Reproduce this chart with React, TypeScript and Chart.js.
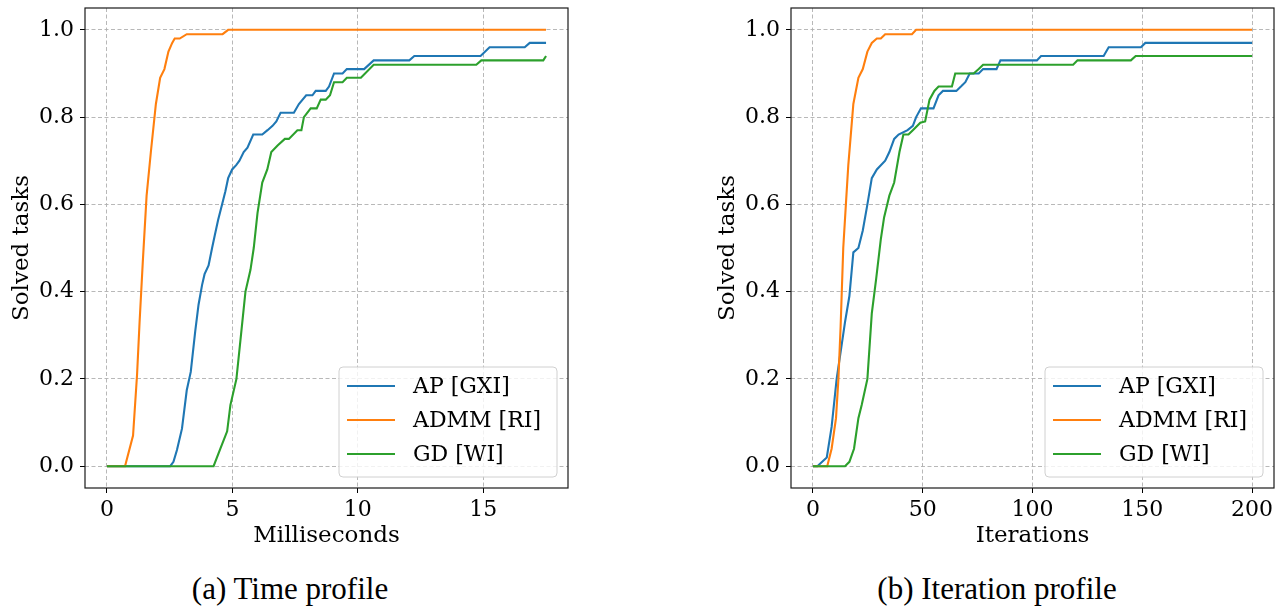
import React, { useEffect, useRef } from "react";
import { Chart, registerables } from "chart.js";

Chart.register(...registerables);

// ---------- data ----------
const seriesNames = ["AP [GXI]", "ADMM [RI]", "GD [WI]"];
const seriesColors = ["#1f77b4", "#ff7f0e", "#2ca02c"];

const yTicks = [0, 0.2, 0.4, 0.6, 0.8, 1.0];
const timeTicks = [0, 5, 10, 15];
const iterTicks = [0, 50, 100, 150, 200];

// Time profile (milliseconds)
const timeAPx = [0, 2.52, 2.65, 2.79, 2.99, 3.18, 3.34, 3.52, 3.65, 3.79, 3.89, 4.05, 4.19, 4.3, 4.43, 4.59, 4.72, 4.83, 4.99, 5.15, 5.28, 5.45, 5.6, 5.83, 6.19, 6.4, 6.6, 6.75, 6.92, 7.45, 7.65, 7.94, 8.19, 8.32, 8.72, 8.85, 9.05, 9.39, 9.56, 10.25, 10.63, 12.05, 12.25, 14.89, 15.25, 16.65, 16.85, 17.5];
const timeAPy = [0, 0, 0.01, 0.037, 0.086, 0.174, 0.216, 0.31, 0.37, 0.415, 0.44, 0.46, 0.5, 0.53, 0.564, 0.6, 0.63, 0.66, 0.68, 0.69, 0.7, 0.72, 0.73, 0.76, 0.76, 0.77, 0.78, 0.79, 0.81, 0.81, 0.83, 0.85, 0.85, 0.86, 0.86, 0.87, 0.9, 0.9, 0.91, 0.91, 0.93, 0.93, 0.94, 0.94, 0.96, 0.96, 0.97, 0.97];

const timeADMMx = [0, 0.72, 1.04, 1.2, 1.3, 1.43, 1.58, 1.75, 1.95, 2.12, 2.29, 2.45, 2.6, 2.7, 2.9, 3.18, 4.61, 4.83, 17.5];
const timeADMMy = [0, 0, 0.07, 0.21, 0.33, 0.47, 0.62, 0.72, 0.83, 0.89, 0.91, 0.95, 0.97, 0.98, 0.98, 0.99, 0.99, 1.0, 1.0];

const timeGDx = [0, 4.25, 4.52, 4.79, 4.92, 5.16, 5.34, 5.52, 5.72, 5.85, 6.0, 6.19, 6.39, 6.55, 6.8, 7.09, 7.25, 7.59, 7.75, 7.85, 8.12, 8.36, 8.52, 8.72, 8.89, 9.05, 9.39, 9.56, 10.12, 10.63, 14.72, 14.92, 17.39, 17.5];
const timeGDy = [0, 0, 0.04, 0.08, 0.14, 0.2, 0.3, 0.4, 0.45, 0.5, 0.58, 0.65, 0.68, 0.72, 0.735, 0.75, 0.75, 0.77, 0.77, 0.8, 0.82, 0.82, 0.84, 0.84, 0.85, 0.88, 0.88, 0.89, 0.89, 0.92, 0.92, 0.93, 0.93, 0.94];

// Iteration profile
const iterAPx = [0, 2, 6.3, 8.5, 10.8, 14.6, 16.6, 18.4, 20.7, 22.7, 24.8, 26.8, 29.1, 32.9, 34.8, 37, 39, 43.1, 45.5, 47, 49.2, 54.9, 57.2, 59.2, 65.3, 67.4, 69.4, 71.4, 75.5, 77.5, 83.6, 85.4, 102, 103.9, 132.4, 134.7, 149.4, 151.4, 200];
const iterAPy = [0, 0, 0.02, 0.09, 0.2, 0.33, 0.39, 0.49, 0.5, 0.54, 0.6, 0.66, 0.68, 0.7, 0.72, 0.75, 0.76, 0.77, 0.78, 0.8, 0.82, 0.82, 0.85, 0.86, 0.86, 0.87, 0.88, 0.9, 0.9, 0.91, 0.91, 0.93, 0.93, 0.94, 0.94, 0.96, 0.96, 0.97, 0.97];

const iterADMMx = [0, 6.5, 8.5, 10.5, 11.6, 12.6, 13.8, 15, 16.1, 18.4, 20.7, 22.7, 24.8, 26.8, 29.1, 30.9, 32.9, 45.1, 47, 200];
const iterADMMy = [0, 0, 0.04, 0.11, 0.2, 0.32, 0.5, 0.6, 0.69, 0.83, 0.89, 0.91, 0.95, 0.97, 0.98, 0.98, 0.99, 0.99, 1.0, 1.0];

const iterGDx = [0, 14.6, 16.6, 18.7, 20.7, 22.2, 24.8, 26.8, 28.8, 30.9, 32.4, 34.8, 37, 39.4, 41.2, 43.5, 45.5, 48.9, 51.1, 53.1, 55.3, 57.2, 63.3, 64.8, 73.2, 75.5, 77.5, 118.5, 120.5, 144.8, 147, 200];
const iterGDy = [0, 0, 0.01, 0.04, 0.11, 0.14, 0.2, 0.35, 0.43, 0.52, 0.57, 0.62, 0.65, 0.72, 0.76, 0.76, 0.77, 0.787, 0.79, 0.84, 0.86, 0.87, 0.87, 0.9, 0.9, 0.91, 0.92, 0.92, 0.93, 0.93, 0.94, 0.94];

const timeXRange = [-0.875, 18.375];
const iterXRange = [-10, 210];
const yRange = [-0.05, 1.05];

// ---------- helpers ----------
const FONT = "DejaVu Serif";
const zip = (xs: number[], ys: number[]) => xs.map((x, i) => ({ x, y: ys[i] }));

const framePlugin = {
  id: "frameLegend",
  afterDraw(chart: any) {
    const { ctx, chartArea } = chart;
    const { left, right, top, bottom } = chartArea;
    ctx.save();
    // legend box
    const bw = 218, bh = 110;
    const bx = right - 11 - bw;
    const by = bottom - 11 - bh;
    ctx.beginPath();
    (ctx as any).roundRect(bx, by, bw, bh, 4);
    ctx.fillStyle = "rgba(255,255,255,0.8)";
    ctx.fill();
    ctx.strokeStyle = "#d0d0d0";
    ctx.lineWidth = 1;
    ctx.stroke();
    seriesNames.forEach((name, i) => {
      const y = by + 19 + i * 34;
      ctx.beginPath();
      ctx.moveTo(bx + 8, y);
      ctx.lineTo(bx + 56, y);
      ctx.strokeStyle = seriesColors[i];
      ctx.lineWidth = 2;
      ctx.stroke();
      ctx.fillStyle = "#000";
      ctx.font = `22px "${FONT}"`;
      ctx.textAlign = "left";
      ctx.textBaseline = "middle";
      ctx.fillText(name, bx + 74, y + 1);
    });
    // frame
    ctx.strokeStyle = "#1a1a1a";
    ctx.lineWidth = 1.2;
    ctx.strokeRect(left, top, right - left, bottom - top);
    ctx.restore();
  },
};

function makeConfig(
  xs: number[][],
  ys: number[][],
  xRange: number[],
  xTickVals: number[],
  xTitle: string
): any {
  const orders = [2, 1, 0];
  return {
    type: "line",
    data: {
      datasets: xs.map((xArr, i) => ({
        label: seriesNames[i],
        data: zip(xArr, ys[i]),
        borderColor: seriesColors[i],
        backgroundColor: seriesColors[i],
        borderWidth: 2.1,
        pointRadius: 0,
        tension: 0,
        fill: false,
        order: orders[i],
      })),
    },
    options: {
      responsive: false,
      animation: false,
      events: [],
      layout: { padding: { left: 0, right: 12, top: 8, bottom: 0 } },
      plugins: { legend: { display: false }, tooltip: { enabled: false } },
      scales: {
        x: {
          type: "linear",
          min: xRange[0],
          max: xRange[1],
          afterBuildTicks: (s: any) => {
            s.ticks = xTickVals.map((v) => ({ value: v }));
          },
          afterFit: (s: any) => {
            s.height = 72;
            s.paddingLeft = 0;
            s.paddingRight = 0;
          },
          ticks: {
            color: "#000",
            font: { family: FONT, size: 22 },
            padding: 4,
            maxRotation: 0,
            autoSkip: false,
            callback: (v: any) => String(v),
          },
          grid: {
            color: "#b0b0b0",
            lineWidth: 0.9,
            tickColor: "#000",
            tickWidth: 1,
            tickLength: 5,
            tickBorderDash: [],
          },
          border: { display: false, dash: [4, 2.5] },
          title: {
            display: true,
            text: xTitle,
            color: "#000",
            font: { family: FONT, size: 23 },
            padding: { top: 0, bottom: 10 },
          },
        },
        y: {
          type: "linear",
          min: yRange[0],
          max: yRange[1],
          afterBuildTicks: (s: any) => {
            s.ticks = yTicks.map((v) => ({ value: v }));
          },
          afterFit: (s: any) => {
            s.width = 85;
            s.paddingTop = 0;
            s.paddingBottom = 0;
          },
          ticks: {
            color: "#000",
            font: { family: FONT, size: 22 },
            padding: 6,
            autoSkip: false,
            callback: (v: any) => Number(v).toFixed(1),
          },
          grid: {
            color: "#b0b0b0",
            lineWidth: 0.9,
            tickColor: "#000",
            tickWidth: 1,
            tickLength: 5,
            tickBorderDash: [],
          },
          border: { display: false, dash: [4, 2.5] },
          title: {
            display: true,
            text: "Solved tasks",
            color: "#000",
            font: { family: FONT, size: 23 },
            padding: { top: 8, bottom: 0 },
          },
        },
      },
    },
    plugins: [framePlugin],
  };
}

function Panel(props: { cfg: () => any; left: number }) {
  const ref = useRef<HTMLCanvasElement | null>(null);
  useEffect(() => {
    if (!ref.current) return;
    const chart = new Chart(ref.current, props.cfg());
    return () => chart.destroy();
  }, []);
  return (
    <canvas
      ref={ref}
      width={580}
      height={560}
      style={{ position: "absolute", left: props.left, top: 0, width: 580, height: 560 }}
    />
  );
}

const captionStyle: React.CSSProperties = {
  position: "absolute",
  top: 571,
  width: 580,
  textAlign: "center",
  fontFamily: '"Liberation Serif", serif',
  fontSize: 31,
  lineHeight: "36px",
  color: "#000",
};

export default function App() {
  return (
    <div
      style={{
        position: "fixed",
        left: 0,
        top: 0,
        width: 1287,
        height: 610,
        background: "#fff",
        overflow: "hidden",
      }}
    >
      <Panel
        left={0}
        cfg={() =>
          makeConfig(
            [timeAPx, timeADMMx, timeGDx],
            [timeAPy, timeADMMy, timeGDy],
            timeXRange,
            timeTicks,
            "Milliseconds"
          )
        }
      />
      <Panel
        left={706}
        cfg={() =>
          makeConfig(
            [iterAPx, iterADMMx, iterGDx],
            [iterAPy, iterADMMy, iterGDy],
            iterXRange,
            iterTicks,
            "Iterations"
          )
        }
      />
      <div style={{ ...captionStyle, left: 0 }}>(a) Time profile</div>
      <div style={{ ...captionStyle, left: 707 }}>(b) Iteration profile</div>
    </div>
  );
}
